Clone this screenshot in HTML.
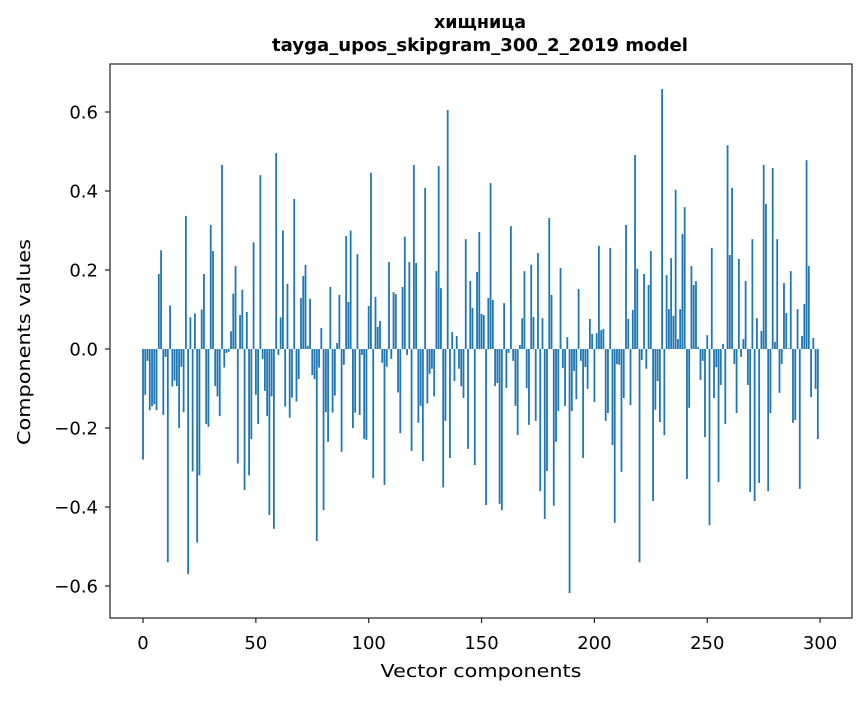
<!DOCTYPE html>
<html><head><meta charset="utf-8"><style>
body{margin:0;background:#fff;}
svg text{font-family:"DejaVu Sans","Liberation Sans",sans-serif;fill:#000;}
</style></head><body>
<svg id="chart" width="867" height="696" xmlns="http://www.w3.org/2000/svg">
<rect width="867" height="696" fill="#fff"/>
<text x="480" y="28" text-anchor="middle" font-size="17.5" font-weight="bold">хищница</text>
<text x="480" y="51" text-anchor="middle" font-size="17.5" font-weight="bold" textLength="416" lengthAdjust="spacingAndGlyphs">tayga_upos_skipgram_300_2_2019 model</text>
<g id="bars"></g>
<g id="axes"></g>
<rect x="110" y="64" width="742" height="554" fill="none" stroke="#222" stroke-width="1.2"/>
<text x="481" y="677" text-anchor="middle" font-size="18" textLength="201" lengthAdjust="spacingAndGlyphs">Vector components</text>
<text transform="translate(30,342) rotate(-90)" text-anchor="middle" font-size="18" textLength="206" lengthAdjust="spacingAndGlyphs">Components values</text>
</svg>
<script>
const values = [
-0.28,-0.116,-0.03,-0.155,-0.145,-0.14,-0.155,0.19,0.25,-0.167,
-0.02,-0.54,0.11,-0.095,-0.08,-0.094,-0.2,-0.045,-0.16,0.337,
-0.57,0.08,-0.31,0.09,-0.49,-0.32,0.10,0.19,-0.19,-0.197,
0.314,0.248,-0.094,-0.12,-0.17,0.466,-0.047,-0.01,-0.007,0.045,
0.14,0.21,-0.29,0.086,0.15,-0.357,0.094,-0.32,-0.228,0.27,
-0.116,-0.19,0.44,-0.025,-0.106,-0.17,-0.42,-0.12,-0.455,0.496,
-0.015,0.08,0.30,-0.146,0.165,-0.174,-0.123,0.38,-0.133,-0.076,
0.129,0.185,0.213,0.008,0.127,-0.066,-0.076,-0.486,-0.047,0.053,
-0.408,-0.16,-0.235,0.157,-0.161,-0.118,0.015,0.137,-0.26,-0.04,
0.286,0.119,0.30,-0.2,-0.161,0.24,-0.167,-0.015,-0.228,-0.23,
0.109,0.446,-0.327,0.132,0.056,0.071,-0.035,-0.344,-0.045,0.22,
-0.025,0.144,0.139,-0.11,-0.213,0.157,0.284,-0.015,0.22,-0.258,
0.466,0.218,-0.187,-0.144,-0.284,0.408,-0.138,-0.063,-0.05,-0.12,
0.197,0.463,0.154,-0.35,-0.182,0.605,-0.276,0.043,-0.081,0.033,
-0.05,-0.094,-0.124,0.278,-0.253,0.172,0.104,-0.294,0.195,0.296,
0.089,0.086,-0.395,0.129,0.42,0.124,-0.094,-0.086,-0.392,-0.408,
0.116,-0.099,-0.01,0.311,-0.03,-0.144,-0.218,0.01,0.078,0.197,
-0.099,-0.192,0.213,0.081,-0.182,0.243,-0.36,0.078,-0.43,-0.309,
0.332,0.137,-0.397,-0.235,-0.157,0.205,-0.048,-0.144,0.03,-0.618,
-0.157,-0.056,-0.127,0.152,-0.03,-0.276,-0.046,-0.101,0.076,0.038,
-0.134,0.04,0.261,0.048,0.051,-0.182,-0.162,0.256,-0.243,-0.44,
-0.038,-0.04,-0.311,-0.124,0.314,0.076,-0.142,0.099,0.491,0.203,
-0.54,-0.028,0.19,-0.05,0.162,0.248,-0.385,-0.154,-0.081,-0.185,
0.658,-0.218,0.187,0.101,0.23,0.084,0.403,0.025,0.101,0.291,
0.359,-0.329,-0.149,0.21,0.162,0.172,0.005,-0.078,-0.03,-0.223,
0.035,-0.446,0.256,-0.124,-0.046,-0.337,-0.091,0.013,-0.19,0.516,
0.238,0.408,-0.038,-0.162,0.228,-0.02,0.025,0.172,-0.091,-0.362,
0.278,-0.385,0.078,-0.339,0.046,0.466,0.367,-0.36,-0.162,0.458,
0.018,0.278,-0.111,-0.038,0.167,0.091,0.002,0.197,-0.187,-0.18,
0.101,-0.354,0.033,0.114,0.478,0.21,-0.122,0.028,-0.101,-0.228
];
const xTicks = [0,50,100,150,200,250,300];
const yTicks = [-0.6,-0.4,-0.2,0.0,0.2,0.4,0.6];
const yTickLabels = ["\u22120.6","\u22120.4","\u22120.2","0.0","0.2","0.4","0.6"];

const NS="http://www.w3.org/2000/svg";
const xs = n => 143 + n*2.257;
const ys = v => 349 - v*395;
const bars=document.getElementById('bars');
values.forEach((v,i)=>{
  const r=document.createElementNS(NS,'rect');
  
  
  const y0=ys(0), y1=ys(v);
  r.setAttribute('x',xs(i)-0.9);
  r.setAttribute('width',1.8);
  r.setAttribute('y',Math.min(y0,y1));
  r.setAttribute('height',Math.max(Math.abs(y1-y0),0.3));
  r.setAttribute('fill','#1f77b4');
  bars.appendChild(r);
});
const axes=document.getElementById('axes');
xTicks.forEach(t=>{
  const l=document.createElementNS(NS,'line');
  
  
  l.setAttribute('x1',xs(t));l.setAttribute('x2',xs(t));
  l.setAttribute('y1',618);l.setAttribute('y2',623);
  l.setAttribute('stroke','#222');l.setAttribute('stroke-width','1.2');
  axes.appendChild(l);
  const tx=document.createElementNS(NS,'text');
  
  
  tx.setAttribute('x',xs(t));tx.setAttribute('y',649);
  tx.setAttribute('text-anchor','middle');tx.setAttribute('font-size','18');
  tx.textContent=t;
  axes.appendChild(tx);
});
yTicks.forEach((t,i)=>{
  const l=document.createElementNS(NS,'line');
  
  
  l.setAttribute('x1',105);l.setAttribute('x2',110);
  l.setAttribute('y1',ys(t));l.setAttribute('y2',ys(t));
  l.setAttribute('stroke','#222');l.setAttribute('stroke-width','1.2');
  axes.appendChild(l);
  const tx=document.createElementNS(NS,'text');
  
  
  tx.setAttribute('x',98);tx.setAttribute('y',ys(t)+6.5);
  tx.setAttribute('text-anchor','end');tx.setAttribute('font-size','18');
  tx.textContent=yTickLabels[i];
  axes.appendChild(tx);
});
</script>
</body></html>
